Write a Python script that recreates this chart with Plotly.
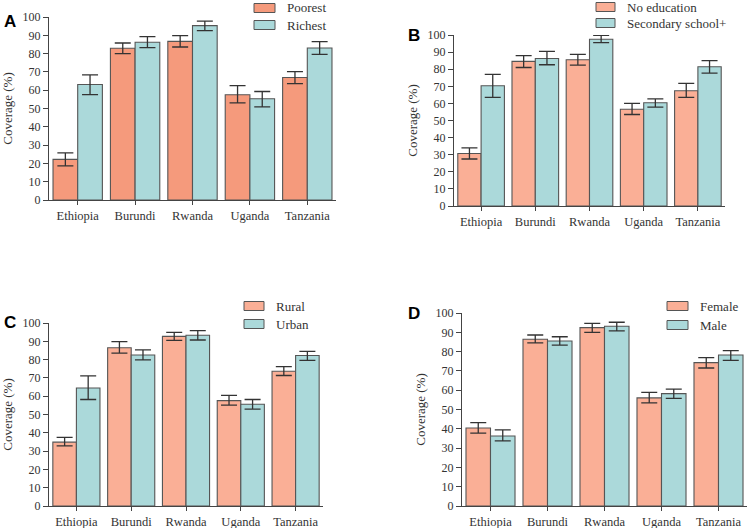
import plotly.graph_objects as go

countries = ["Ethiopia", "Burundi", "Rwanda", "Uganda", "Tanzania"]

# panel A - wealth
poorest = [22.2, 82.9, 86.7, 57.5, 66.9]
poorest_hi = [25.8, 85.8, 89.8, 62.5, 70.2]
poorest_lo = [18.7, 80.0, 83.6, 53.1, 63.6]
richest = [63.1, 86.2, 95.3, 55.3, 83.1]
richest_hi = [68.4, 89.3, 97.8, 59.3, 86.5]
richest_lo = [57.6, 83.3, 92.5, 50.9, 79.6]

# panel B - education
noedu = [30.7, 84.6, 85.5, 56.6, 67.4]
noedu_hi = [34.0, 87.9, 88.7, 60.0, 71.7]
noedu_lo = [27.5, 81.0, 82.4, 53.5, 63.5]
second = [70.3, 86.3, 97.5, 60.4, 81.4]
second_hi = [77.0, 90.4, 99.8, 62.7, 85.0]
second_lo = [63.5, 82.6, 95.5, 57.8, 77.7]

# panel C - residence
rural = [34.9, 86.5, 92.7, 57.6, 73.6]
rural_hi = [37.5, 89.8, 94.9, 60.4, 76.2]
rural_lo = [32.9, 83.5, 90.5, 55.1, 71.3]
urban = [64.5, 82.5, 93.3, 55.6, 82.2]
urban_hi = [71.1, 85.3, 95.8, 58.2, 84.5]
urban_lo = [58.2, 79.8, 90.7, 52.9, 79.6]

# panel D - sex
female = [40.4, 86.4, 92.4, 56.0, 74.3]
female_hi = [43.2, 88.6, 94.6, 58.9, 76.9]
female_lo = [37.8, 84.5, 90.0, 53.4, 71.5]
male = [36.3, 85.5, 93.1, 58.2, 78.2]
male_hi = [39.4, 87.7, 95.2, 60.6, 80.5]
male_lo = [33.7, 83.4, 90.7, 55.8, 75.5]

W, H = 753, 528
ORANGE_A = "#F59A7C"
ORANGE = "#FAAF96"
TEAL = "#ABD9DA"
EDGE = "#555555"
SERIF = "Liberation Serif"


def px(x):
    return x / W


def py(y):
    return 1 - y / H


# pixel layout of each panel: axes box, legend swatch x / row centres, letter
panels = [
    dict(letter="A", names=["Poorest", "Richest"], c1=ORANGE_A,
         s1=(poorest, poorest_hi, poorest_lo), s2=(richest, richest_hi, richest_lo),
         box=(49, 336, 17, 200), sw=(254, 275), rows=(8, 25), lab=(2, 21)),
    dict(letter="B", names=["No education", "Secondary school+"], c1=ORANGE,
         s1=(noedu, noedu_hi, noedu_lo), s2=(second, second_hi, second_lo),
         box=(454, 725, 35, 206), sw=(596, 615), rows=(7, 23), lab=(406, 35)),
    dict(letter="C", names=["Rural", "Urban"], c1=ORANGE,
         s1=(rural, rural_hi, rural_lo), s2=(urban, urban_hi, urban_lo),
         box=(49, 323, 323, 506), sw=(244, 264), rows=(306, 324), lab=(2, 322)),
    dict(letter="D", names=["Female", "Male"], c1=ORANGE,
         s1=(female, female_hi, female_lo), s2=(male, male_hi, male_lo),
         box=(462, 747, 313, 506), sw=(667, 688), rows=(306, 325), lab=(406, 313)),
]

fig = go.Figure()
layout = {}
for i, p in enumerate(panels):
    n = "" if i == 0 else str(i + 1)
    x0, x1, ytop, ybot = p["box"]
    series = [(p["s1"], p["names"][0], p["c1"]), (p["s2"], p["names"][1], TEAL)]
    for k, ((vals, hi, lo), name, color) in enumerate(series):
        fig.add_trace(go.Bar(
            x=countries, y=vals, name=name, showlegend=False,
            xaxis="x" + n, yaxis="y" + n,
            marker=dict(color=color, line=dict(color=EDGE, width=1.1)),
            error_y=dict(type="data", symmetric=False,
                         array=[h - v for h, v in zip(hi, vals)],
                         arrayminus=[v - l for v, l in zip(vals, lo)],
                         color="#333333", thickness=1.3, width=8),
        ))
        # legend entry
        cy = p["rows"][k]
        fig.add_shape(type="rect", xref="paper", yref="paper",
                      x0=px(p["sw"][0]), x1=px(p["sw"][1]),
                      y0=py(cy + 4.5), y1=py(cy - 4.5),
                      fillcolor=color, line=dict(color=EDGE, width=1))
        fig.add_annotation(x=px(p["sw"][1] + 10), y=py(cy), xref="paper", yref="paper",
                           xanchor="left", yanchor="middle", showarrow=False,
                           text=name, font=dict(family=SERIF, size=13, color="#333333"))
    layout["xaxis" + n] = dict(
        domain=[px(x0), px(x1)], anchor="y" + n, range=[-0.5, 4.5],
        showline=True, linecolor="#444444", linewidth=1.2,
        ticks="outside", ticklen=4, tickcolor="#444444",
        tickfont=dict(family=SERIF, size=12.5, color="#333333"),
        showgrid=False,
    )
    layout["yaxis" + n] = dict(
        domain=[py(ybot), py(ytop)], anchor="x" + n, range=[0, 100], dtick=10,
        showline=True, linecolor="#444444", linewidth=1.2,
        ticks="outside", ticklen=5, tickcolor="#444444",
        tickfont=dict(family=SERIF, size=12, color="#333333"),
        showgrid=False, zeroline=False,
        title=dict(text="Coverage (%)", standoff=6,
                   font=dict(family=SERIF, size=13, color="#333333")),
    )
    fig.add_annotation(
        x=px(p["lab"][0]), y=py(p["lab"][1]), xref="paper", yref="paper",
        xanchor="left", yanchor="middle", showarrow=False,
        text="<b>" + p["letter"] + "</b>",
        font=dict(family="Liberation Sans", size=17, color="#000000"),
    )

fig.update_layout(
    width=W, height=H,
    margin=dict(l=0, r=0, t=0, b=0, autoexpand=False),
    plot_bgcolor="white", paper_bgcolor="white",
    barmode="group", bargap=0.14, bargroupgap=0,
    **layout,
)

# page body has a default 8px margin; drop it so the figure fills the window
fig.write_html("out.html", config={"displayModeBar": False},
               post_script="document.body.style.margin='0';")
